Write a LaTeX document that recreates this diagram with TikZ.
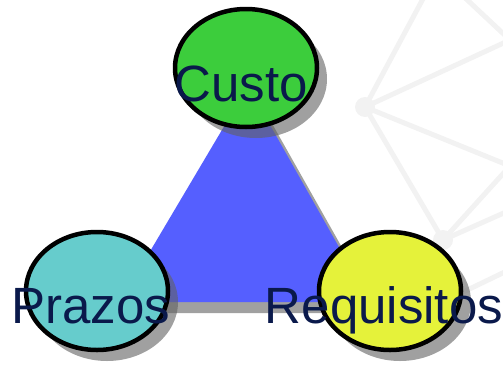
\documentclass[tikz,border=0pt]{standalone}
\usepackage{fontspec}
\setmainfont{Liberation Sans}
\usetikzlibrary{shapes.geometric,shadows}
\definecolor{netgray}{RGB}{242,242,242}
\definecolor{triblue}{RGB}{85,95,255}
\definecolor{custogreen}{RGB}{60,205,60}
\definecolor{prazoscyan}{RGB}{102,204,204}
\definecolor{reqyellow}{RGB}{229,242,58}
\definecolor{textnavy}{RGB}{10,25,75}
\definecolor{shadowgray}{RGB}{97,97,97}
\tikzset{
  netline/.style={draw=netgray,line width=5pt,line cap=round},
  netdot/.style={circle,fill=netgray,minimum size=20pt,inner sep=0pt},
  bubble/.style={ellipse,draw=black,line width=4.5pt,minimum width=142pt,minimum height=118pt,inner sep=0pt,
    drop shadow={shadow xshift=10pt,shadow yshift=-11pt,fill=shadowgray,opacity=0.6}},
  label text/.style={anchor=base,inner sep=0pt,text=textnavy,font=\fontsize{51}{61}\selectfont},
}
\begin{document}
\begin{tikzpicture}[x=1pt,y=-1pt]
\useasboundingbox (0,0) rectangle (503,367);
% background network
\node[netdot] (na) at (365,107) {};
\node[netdot] (nb) at (443,240) {};
\coordinate (nc) at (510,40);
\coordinate (nd) at (510,166);
\coordinate (ne) at (425,-5);
\coordinate (nf) at (462,-5);
\coordinate (ng) at (515,208);
\coordinate (nh) at (455,296);
\coordinate (ni) at (515,267);
\draw[netline] (na.center) -- (ne);
\draw[netline] (na.center) -- (nc);
\draw[netline] (na.center) -- (nd);
\draw[netline] (na.center) -- (nb.center);
\draw[netline] (nb.center) -- (nd);
\draw[netline] (nb.center) -- (ng);
\draw[netline] (nf) -- (nc);
\draw[netline] (nh) -- (ni);
% triangle
\coordinate (tl) at (120,302);
\coordinate (tr) at (370,302);
\coordinate (tt) at (248,86);
\fill[shadowgray,opacity=0.6] ([shift={(9,11)}]tl) -- ([shift={(9,11)}]tr) -- ([shift={(9,11)}]tt) -- cycle;
\fill[triblue] (tl) -- (tr) -- (tt) -- cycle;
% bubbles
\node[bubble,fill=custogreen] (custo) at (246,68) {};
\node[bubble,fill=prazoscyan] (prazos) at (97,291) {};
\node[bubble,fill=reqyellow] (req) at (390,291) {};
% labels
\node[label text] (custoT) at (241,101) {Custo};
\node[label text] (prazosT) at (91,323) {Prazos};
\node[label text] (reqT) at (384,323) {Requisitos};
\end{tikzpicture}
\end{document}
